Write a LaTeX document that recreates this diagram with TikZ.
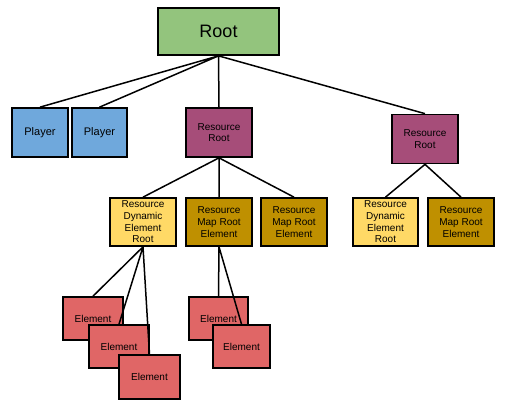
\documentclass[tikz,border=0pt]{standalone}
\usepackage{fontspec}
\setmainfont{Liberation Sans}
\definecolor{rootgreen}{HTML}{93C47D}
\definecolor{playerblue}{HTML}{6FA8DC}
\definecolor{resmagenta}{HTML}{A64D79}
\definecolor{dynyellow}{HTML}{FFD966}
\definecolor{mapgold}{HTML}{BF9000}
\definecolor{elemred}{HTML}{E06666}
\tikzset{
    box/.style={draw=black, line width=1.7pt, inner sep=0pt, align=center, font=\fontsize{10}{11.7}\selectfont},
    link/.style={line width=1.5pt}
}
\begin{document}
\begin{tikzpicture}[x=1pt,y=-1pt]
        \useasboundingbox (0,0) rectangle (511,408);
        %\draw[gray] (0,0) grid[step=50] (511,408);

        \node[box, fill=rootgreen, minimum width=121pt, minimum height=47pt, font=\fontsize{18}{20}\selectfont] (root) at (218.5,31.5) {Root};

        \node[box, fill=playerblue, minimum width=56pt, minimum height=49pt, font=\fontsize{11}{13}\selectfont] (player1) at (40,132.5) {Player};
        \node[box, fill=playerblue, minimum width=55pt, minimum height=49pt, font=\fontsize{11}{13}\selectfont] (player2) at (99.5,132.5) {Player};
        \node[box, fill=resmagenta, minimum width=66pt, minimum height=49pt] (resroot1) at (219,132.5) {Resource\\Root};
        \node[box, fill=resmagenta, minimum width=66pt, minimum height=49pt] (resroot2) at (425,139) {Resource\\Root};

        \node[box, fill=dynyellow, minimum width=66pt, minimum height=48pt] (dynroot1) at (143,222) {Resource\\Dynamic\\Element\\Root};
        \node[box, fill=mapgold, minimum width=66pt, minimum height=48pt] (maproot1) at (219,222) {Resource\\Map Root\\Element};
        \node[box, fill=mapgold, minimum width=66pt, minimum height=48pt] (maproot2) at (294,222) {Resource\\Map Root\\Element};
        \node[box, fill=dynyellow, minimum width=65pt, minimum height=48pt] (dynroot2) at (385.5,222) {Resource\\Dynamic\\Element\\Root};
        \node[box, fill=mapgold, minimum width=66pt, minimum height=48pt] (maproot3) at (461,222) {Resource\\Map Root\\Element};

        \node[box, fill=elemred, minimum width=60pt, minimum height=43pt] (elem1) at (93,318.5) {Element};
        \node[box, fill=elemred, minimum width=60pt, minimum height=43pt] (elem2) at (119,346.5) {Element};
        \node[box, fill=elemred, minimum width=61pt, minimum height=44pt] (elem3) at (149.5,377) {Element};
        \node[box, fill=elemred, minimum width=59pt, minimum height=43pt] (elem4) at (218.5,318.5) {Element};
        \node[box, fill=elemred, minimum width=57pt, minimum height=43pt] (elem5) at (241.5,346.5) {Element};

        \draw[link] (root.south) -- (player1.north) (root.south) -- (player2.north) (root.south) -- (resroot1.north) (root.south) -- (resroot2.north);
        \draw[link] (resroot1.south) -- (dynroot1.north) (resroot1.south) -- (maproot1.north) (resroot1.south) -- (maproot2.north);
        \draw[link] (resroot2.south) -- (dynroot2.north) (resroot2.south) -- (maproot3.north);
        \draw[link] (dynroot1.south) -- (elem1.north) (dynroot1.south) -- (elem2.north) (dynroot1.south) -- (elem3.north);
        \draw[link] (maproot1.south) -- (elem4.north) (maproot1.south) -- (elem5.north);
    \end{tikzpicture}
\end{document}
